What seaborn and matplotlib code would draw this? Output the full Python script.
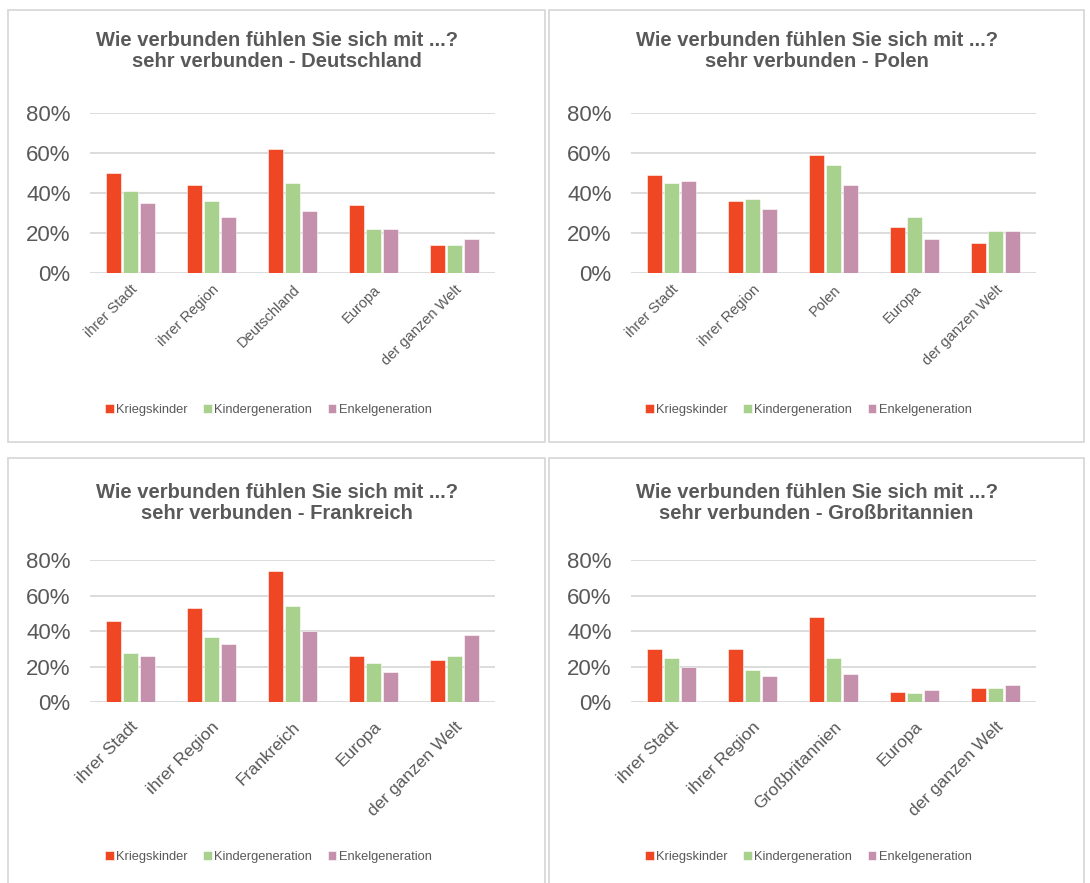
import matplotlib
matplotlib.use('Agg')
import pandas as pd
import matplotlib.pyplot as plt
from matplotlib.patches import Rectangle
from matplotlib.ticker import PercentFormatter, MultipleLocator
import seaborn as sns

GROUPS = ['Kriegskinder', 'Kindergeneration', 'Enkelgeneration']
COLORS = ['#EF4623', '#A9D18E', '#C490AC']
TEXT = '#595959'
GRID = '#D9D9D9'

COUNTRIES = ['Deutschland', 'Polen', 'Frankreich', 'Großbritannien']

# percent, order: ihrer Stadt, ihrer Region, <Land>, Europa, der ganzen Welt
de_krieg = [50, 44, 62, 34, 14]
de_kinder = [41, 36, 45, 22, 14]
de_enkel = [35, 28, 31, 22, 17]

pl_krieg = [49, 36, 59, 23, 15]
pl_kinder = [45, 37, 54, 28, 21]
pl_enkel = [46, 32, 44, 17, 21]

fr_krieg = [46, 53, 74, 26, 24]
fr_kinder = [28, 37, 54, 22, 26]
fr_enkel = [26, 33, 40, 17, 38]

gb_krieg = [30, 30, 48, 6, 8]
gb_kinder = [25, 18, 25, 5, 8]
gb_enkel = [20, 15, 16, 7, 10]

W, H = 1090, 883


def make_df(country, krieg, kinder, enkel):
    cats = ['ihrer Stadt', 'ihrer Region', country, 'Europa', 'der ganzen Welt']
    rows = []
    for grp, vals in zip(GROUPS, [krieg, kinder, enkel]):
        for c, v in zip(cats, vals):
            rows.append({'cat': c, 'val': v, 'group': grp})
    return pd.DataFrame(rows), cats


def px_axes(fig, l, t, r, b):
    return fig.add_axes([l / W, 1 - b / H, (r - l) / W, (b - t) / H])


sns.set_theme(style='white')
plt.rcParams['font.family'] = ['Liberation Sans', 'DejaVu Sans']

fig = plt.figure(figsize=(W / 100, H / 100), dpi=100)

panels = [
    # country, data, box (l, t, r, b), axes (l, t, r, b), xtick size, xtick pad, title y, legend y
    ('Deutschland', (de_krieg, de_kinder, de_enkel), (8, 10, 545, 442), (90, 112.7, 495, 272.7), 10.5, 7, 51, 410),
    ('Polen', (pl_krieg, pl_kinder, pl_enkel), (549, 10, 1084, 442), (631, 112.7, 1036, 272.7), 10.5, 7, 51, 410),
    ('Frankreich', (fr_krieg, fr_kinder, fr_enkel), (8, 458, 545, 890), (90, 560.3, 495, 702.3), 12.5, 12, 503, 857),
    ('Großbritannien', (gb_krieg, gb_kinder, gb_enkel), (549, 458, 1084, 890), (631, 560.3, 1036, 702.3), 12.5, 12, 503, 857),
]

for country, vals, box, pos, xsize, xpad, ty, ly in panels:
    bl, bt, br, bb = box
    fig.patches.append(Rectangle((bl / W, 1 - bb / H), (br - bl) / W, (bb - bt) / H,
                                 transform=fig.transFigure, fill=False,
                                 edgecolor=GRID, lw=1.3))
    df, cats = make_df(country, *vals)
    ax = px_axes(fig, *pos)
    sns.barplot(data=df, x='cat', y='val', hue='group', order=cats, hue_order=GROUPS,
                palette=COLORS, saturation=1, width=0.64, gap=0.15, ax=ax,
                edgecolor='white', linewidth=0.4)
    ax.set_ylim(0, 80)
    ax.yaxis.set_major_locator(MultipleLocator(20))
    ax.yaxis.set_major_formatter(PercentFormatter(100, decimals=0))
    ax.yaxis.grid(True, color=GRID, lw=1.3)
    ax.set_axisbelow(True)
    for s in ax.spines.values():
        s.set_visible(False)
    ax.set_xlabel('')
    ax.set_ylabel('')
    ax.tick_params(axis='y', length=0, labelsize=16, labelcolor=TEXT, pad=14)
    ax.tick_params(axis='x', length=0, labelsize=xsize, labelcolor=TEXT, pad=xpad)
    for lab in ax.get_xticklabels():
        lab.set_rotation(45)
        lab.set_ha('right')
        lab.set_va('top')
        lab.set_rotation_mode('anchor')

    cx = (bl + br) / 2
    fig.text(cx / W, 1 - ty / H,
             'Wie verbunden fühlen Sie sich mit ...?\nsehr verbunden - ' + country,
             ha='center', va='center', fontsize=14.5, fontweight='bold',
             color=TEXT, linespacing=1.15)

    handles, labels = ax.get_legend_handles_labels()
    ax.legend_.remove()
    fig.legend(handles, labels, loc='center', bbox_to_anchor=((cx - 8) / W, 1 - ly / H),
               ncol=3, frameon=False, fontsize=9.3, handlelength=0.65, handleheight=0.65,
               handletextpad=0.2, columnspacing=1.2, labelcolor=TEXT)

fig.savefig('out.png', dpi=100)
